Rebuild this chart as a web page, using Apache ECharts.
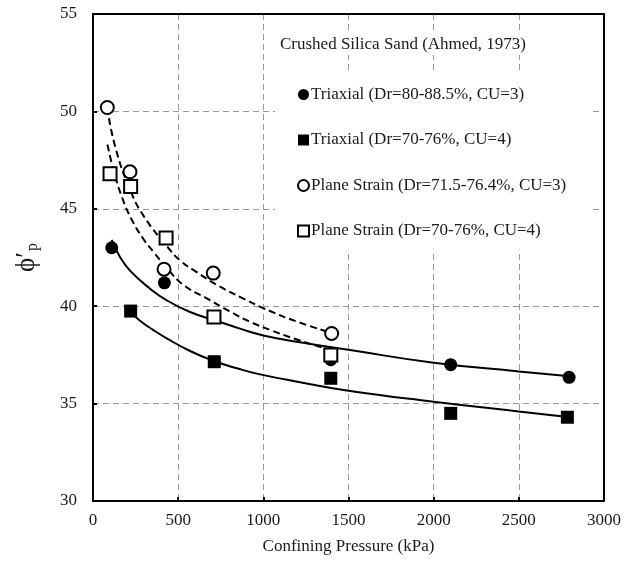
<!DOCTYPE html>
<html>
<head>
<meta charset="utf-8">
<script src="https://cdn.jsdelivr.net/npm/echarts@6/dist/echarts.min.js"></script>
<style>
html,body{margin:0;padding:0;background:#fff;}
#main{width:637px;height:571px;}
</style>
</head>
<body>
<div id="main"></div>
<script>
// measured points [confining pressure kPa, phi'p deg]
var triaxHigh = [[110,43.0],[419,41.2],[1396,37.25],[2100,37.0],[2795,36.35]];
var triaxLow = [[221,39.75],[712,37.15],[1396,36.3],[2100,34.5],[2785,34.3]];
var planeHigh = [[84,50.2],[217,46.9],[417,41.9],[706,41.7],[1401,38.6]];
var planeLow = [[100,46.8],[221,46.15],[429,43.5],[710,39.45],[1396,37.5]];

// fitted curves
var fitTriaxHigh = [[110,43.4],[160,42.5],[220,41.8],[335,40.9],[433,40.3],[570,39.7],[706,39.3],[863,38.85],[1000,38.5],[1215,38.15],[1509,37.75],[2000,37.1],[2500,36.65],[2800,36.4]];
var fitTriaxLow = [[221,39.7],[276,39.25],[350,38.8],[433,38.35],[570,37.7],[706,37.2],[850,36.8],[981,36.5],[1215,36.1],[1509,35.65],[2000,35.1],[2500,34.6],[2800,34.3]];
var fitPlaneHigh = [[84,50.2],[130,48.2],[217,46.0],[300,44.6],[442,43.0],[511,42.35],[600,41.8],[736,41.05],[892,40.35],[1000,39.9],[1200,39.2],[1395,38.65]];
var fitPlaneLow = [[85,48.3],[120,47.0],[170,45.6],[230,44.4],[300,43.4],[354,42.8],[430,42.0],[530,41.1],[668,40.4],[800,39.75],[922,39.2],[1050,38.75],[1176,38.35],[1300,38.0],[1400,37.75]];

var names = ['Triaxial (Dr=80-88.5%, CU=3)', 'Triaxial (Dr=70-76%, CU=4)',
	'Plane Strain (Dr=71.5-76.4%, CU=3)', 'Plane Strain (Dr=70-76%, CU=4)'];

var xTicks = [0, 3000, 500];
var yTicks = [30, 55, 5];

var serif = '"Liberation Serif", "DejaVu Serif", serif';
var ink = '#1a1a1a';

var myChart = echarts.init(document.getElementById('main'));

function fitLine(data, dashed) {
	return {
		type: 'line',
		data: data,
		smooth: true,
		symbol: 'none',
		silent: true,
		z: 2,
		lineStyle: { color: '#000', width: 2, type: dashed ? [7, 4] : 'solid' }
	};
}

function points(name, data, symbol, filled) {
	return {
		name: name,
		type: 'scatter',
		data: data,
		symbol: symbol,
		symbolSize: 13,
		z: 5,
		itemStyle: filled ? { color: '#000', opacity: 1 } : { color: '#fff', borderColor: '#000', borderWidth: 2, opacity: 1 }
	};
}

// plain frame axes for top and right edges
function frameAxis(pos) {
	return {
		type: 'value',
		position: pos,
		min: pos == 'top' ? xTicks[0] : yTicks[0],
		max: pos == 'top' ? xTicks[1] : yTicks[1],
		z: 10,
		axisLine: { show: true, onZero: false, lineStyle: { color: '#000', width: 2 } },
		axisTick: { show: false },
		axisLabel: { show: false },
		splitLine: { show: false }
	};
}

var option = {
	animation: false,
	backgroundColor: '#fff',
	grid: { left: 93, right: 33, top: 14, bottom: 70 },
	title: {
		text: 'Crushed Silica Sand (Ahmed, 1973)',
		left: 276,
		top: 34,
		padding: [2, 4],
		backgroundColor: '#fff',
		textStyle: { fontFamily: serif, fontSize: 17, fontWeight: 'normal', color: ink }
	},
	legend: {
		orient: 'vertical',
		left: 275,
		top: 70,
		padding: [16, 24, 10, 22],
		backgroundColor: '#fff',
		itemGap: 28.5,
		itemWidth: 11,
		itemHeight: 11,
		textStyle: { fontFamily: serif, fontSize: 17, color: ink, padding: [0, 0, 0, -3] },
		data: names
	},
	xAxis: [{
		type: 'value',
		min: xTicks[0],
		max: xTicks[1],
		interval: xTicks[2],
		name: 'Confining Pressure (kPa)',
		nameLocation: 'middle',
		nameGap: 37,
		nameTextStyle: { fontFamily: serif, fontSize: 17, color: ink },
		axisLine: { onZero: false, lineStyle: { color: '#000', width: 2 } },
		axisTick: { inside: true, length: 4, lineStyle: { color: '#000', width: 2 } },
		axisLabel: { fontFamily: serif, fontSize: 17, color: ink, margin: 11, formatter: function (v) { return String(v); } },
		splitLine: { lineStyle: { color: '#999', width: 1, type: [6, 4] } }
	}, frameAxis('top')],
	yAxis: [{
		type: 'value',
		min: yTicks[0],
		max: yTicks[1],
		interval: yTicks[2],
		name: '{a|ϕ′}{b|p}',
		nameLocation: 'middle',
		nameRotate: 90,
		nameGap: 52,
		nameTextStyle: {
			fontFamily: serif,
			color: ink,
			rich: {
				a: { fontFamily: serif, fontSize: 27, color: ink },
				b: { fontFamily: serif, fontSize: 16, color: ink, verticalAlign: 'bottom', padding: [12, 0, 0, 1] }
			}
		},
		axisLine: { onZero: false, lineStyle: { color: '#000', width: 2 } },
		axisTick: { inside: true, length: 4, lineStyle: { color: '#000', width: 2 } },
		axisLabel: { fontFamily: serif, fontSize: 17, color: ink, margin: 16, formatter: function (v) { return String(v); } },
		splitLine: { lineStyle: { color: '#999', width: 1, type: [6, 4] } }
	}, frameAxis('right')],
	series: [
		fitLine(fitTriaxHigh, false),
		fitLine(fitTriaxLow, false),
		fitLine(fitPlaneHigh, true),
		fitLine(fitPlaneLow, true),
		points(names[0], triaxHigh, 'circle', true),
		points(names[1], triaxLow, 'rect', true),
		points(names[2], planeHigh, 'circle', false),
		points(names[3], planeLow, 'rect', false)
	]
};

myChart.setOption(option);
</script>
</body>
</html>
